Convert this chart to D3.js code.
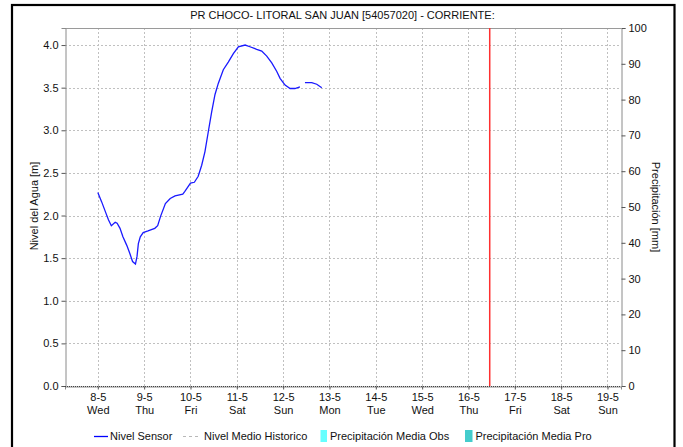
<!DOCTYPE html>
<html><head><meta charset="utf-8">
<script src="https://cdn.jsdelivr.net/npm/d3@7"></script>
<style>
html,body{margin:0;padding:0;background:#fff;}
svg{display:block;font-family:"Liberation Sans",Arial,sans-serif;}
</style></head>
<body>
<svg id="chart" width="683" height="447"></svg>
<script>
// ---- data ----
const title = "PR CHOCO- LITORAL SAN JUAN [54057020] - CORRIENTE:";
const startDay = [2024, 4, 8]; // 8-5 (Wed) 00:00, hours counted from here
const sensorHours = [0,2,4,5.5,7,9,10,11.5,13,15,16.5,18,19.5,20.3,21,22,23.5,26,29.5,31,32.5,35,37.5,40,44,45,48,50,52,53.8,55.5,57.2,59,60.7,62.4,65,67.6,70.2,72.8,76.3,78.8,82.3,84.9,87.5,90.1,92.7,94.4,97,99.6,102.1,104.7,106,107.3,110.8,113.4,116];
const sensorNivel = [2.27,2.16,2.04,1.95,1.88,1.92,1.91,1.85,1.75,1.65,1.56,1.46,1.43,1.52,1.67,1.75,1.80,1.82,1.85,1.88,1.99,2.14,2.20,2.23,2.25,2.28,2.38,2.39,2.46,2.59,2.75,2.98,3.22,3.42,3.55,3.71,3.80,3.90,3.98,4.00,3.98,3.95,3.93,3.87,3.79,3.69,3.61,3.53,3.49,3.49,3.51,null,3.56,3.56,3.54,3.50];
const historicoNivel = [0, 0];
const nowHour = 8*24 + 11; // red marker line, 16-5 11:00
const leftTicks = [0,0.5,1,1.5,2,2.5,3,3.5,4];
const rightTicks = [0,10,20,30,40,50,60,70,80,90,100];
const legendItems = ["Nivel Sensor","Nivel Medio Historico","Precipitación Media Obs","Precipitación Media Pro"];

// ---- layout ----
const svg = d3.select("#chart");
const L = 65, R = 621, T = 28, B = 386;
const hourToDate = h => new Date(startDay[0], startDay[1], startDay[2], 0, 0 + h*60);
const x = d3.scaleTime().domain([new Date(2024,4,7,7), new Date(2024,4,19,7)]).range([L, R]);
const y = d3.scaleLinear().domain([0, 4.2]).range([B, T]);
const y2 = d3.scaleLinear().domain([0, 100]).range([B, T]);
const dayTicks = d3.timeDay.range(new Date(2024,4,8), new Date(2024,4,19,1));

// outer frame
svg.append("rect").attr("x",12).attr("y",5).attr("width",662.5).attr("height",450)
  .attr("fill","none").attr("stroke","#000").attr("stroke-width",2.2);

// title
svg.append("text").attr("x",342.5).attr("y",19).attr("text-anchor","middle")
  .attr("font-size",11).attr("fill","#111").text(title);

// grid
const grid = svg.append("g").attr("stroke","#c0c0c0").attr("stroke-width",1).attr("stroke-dasharray","2,2");
grid.selectAll("line.v").data(dayTicks).join("line")
  .attr("x1",d=>Math.round(x(d))+0.5).attr("x2",d=>Math.round(x(d))+0.5).attr("y1",T).attr("y2",B);
grid.selectAll("line.h").data(leftTicks.filter(d=>d>0)).join("line")
  .attr("x1",L).attr("x2",R).attr("y1",d=>Math.round(y(d))+0.5).attr("y2",d=>Math.round(y(d))+0.5);

// top border
svg.append("line").attr("x1",L).attr("x2",R).attr("y1",T+0.5).attr("y2",T+0.5).attr("stroke","#9a9a9a");

// axes
const axL = svg.append("g").attr("transform",`translate(${L+0.5},0)`)
  .call(d3.axisLeft(y).tickValues(leftTicks).tickFormat(d3.format(".1f")).tickSize(4).tickPadding(3));
const axR = svg.append("g").attr("transform",`translate(${R+0.5},0)`)
  .call(d3.axisRight(y2).tickValues(rightTicks).tickSize(4).tickPadding(3));
const axB = svg.append("g").attr("transform",`translate(0,${B+0.5})`)
  .call(d3.axisBottom(x).tickValues(dayTicks).tickSize(3).tickPadding(4).tickFormat(d3.timeFormat("%-d-%-m")));
[axL,axR,axB].forEach(a=>{
  a.selectAll(".domain").attr("stroke","#8a8a8a");
  a.selectAll(".tick line").attr("stroke","#555");
  a.selectAll("text").attr("font-size",11).attr("fill","#111").attr("font-family","Liberation Sans, Arial, sans-serif");
});
axB.selectAll(".tick text").each(function(d){
  const t = d3.select(this);
  t.append("tspan").attr("x",0).attr("dy","1.15em").text(d3.timeFormat("%a")(d));
});
// historico at 0 (dotted over bottom axis)
const histLine = d3.line().x(d=>d[0]).y(d=>y(d[1]));
svg.append("path").attr("d",histLine([[L,historicoNivel[0]],[R,historicoNivel[1]]]))
  .attr("transform","translate(0,0.5)")
  .attr("fill","none").attr("stroke","#444").attr("stroke-width",1).attr("stroke-dasharray","1,1");

// axis titles
svg.append("text").attr("transform","translate(38,206) rotate(-90)").attr("text-anchor","middle")
  .attr("font-size",11).attr("fill","#111").text("Nivel del Agua [m]");
svg.append("text").attr("transform","translate(652,207) rotate(90)").attr("text-anchor","middle")
  .attr("font-size",11).attr("fill","#111").text("Precipitación [mm]");

// sensor line
const pts = sensorHours.map((h,i)=>({t:hourToDate(h), v:sensorNivel[i]}));
const line = d3.line().defined(d=>d.v!==null).x(d=>x(d.t)).y(d=>y(d.v));
svg.append("path").attr("d",line(pts)).attr("fill","none").attr("stroke","#1a1aff").attr("stroke-width",1.3);

// now marker
svg.append("line").attr("x1",x(hourToDate(nowHour))).attr("x2",x(hourToDate(nowHour)))
  .attr("y1",T).attr("y2",B).attr("stroke","#ff3030").attr("stroke-width",1.5);

// legend
const lg = svg.append("g").attr("font-size",11).attr("fill","#111");
lg.append("line").attr("x1",94).attr("x2",108).attr("y1",436.5).attr("y2",436.5).attr("stroke","#0000ff").attr("stroke-width",1.3);
lg.append("text").attr("x",110).attr("y",440).text(legendItems[0]);
lg.append("line").attr("x1",183).attr("x2",200).attr("y1",436.5).attr("y2",436.5).attr("stroke","#b8b8b8").attr("stroke-width",1.2).attr("stroke-dasharray","3,3");
lg.append("text").attr("x",204).attr("y",440).text(legendItems[1]);
lg.append("rect").attr("x",320.5).attr("y",430).attr("width",6.5).attr("height",12).attr("fill","#66ffff");
lg.append("text").attr("x",330).attr("y",440).text(legendItems[2]);
lg.append("rect").attr("x",465).attr("y",430).attr("width",7.5).attr("height",12).attr("fill","#44cccc");
lg.append("text").attr("x",475.5).attr("y",440).text(legendItems[3]);
</script>
</body></html>
